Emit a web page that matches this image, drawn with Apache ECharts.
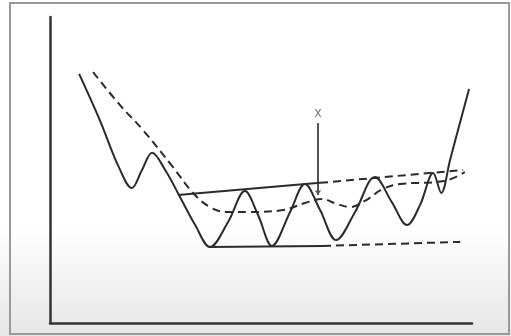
<!DOCTYPE html>
<html><head><meta charset="utf-8">
<script src="https://cdn.jsdelivr.net/npm/echarts@6/dist/echarts.min.js"></script>
<style>html,body{margin:0;padding:0;background:#fff}#c{width:511px;height:336px}</style>
</head><body><div id="c"></div>
<script>
// Price-like oscillating curve (solid)
const priceX = [6.9, 11.8, 16.1, 19.4, 21.8, 24.2, 27.3, 30.8, 34.4, 37.9, 42.2, 46.2, 49.3, 52.6, 56.9, 60.4, 64.0, 67.8, 72.3, 77.0, 81.0, 84.6, 87.7, 90.8, 92.7, 94.8, 99.3];
const priceY = [81.4, 66.3, 51.6, 44.1, 50.0, 55.6, 50.0, 41.2, 32.0, 24.8, 33.0, 43.1, 35.3, 25.2, 36.3, 45.4, 36.9, 27.1, 36.3, 47.7, 39.5, 32.0, 38.6, 49.0, 42.5, 53.3, 76.5];
// Moving-average-like dashed curve
const avgX = [10.2, 16.6, 22.0, 29.1, 33.9, 37.9, 41.9, 47.4, 55.2, 60.4, 64.5, 68.0, 71.1, 74.6, 78.9, 82.9, 93.4, 98.3];
const avgY = [82.0, 71.2, 63.1, 51.0, 42.5, 37.9, 36.3, 36.3, 36.9, 39.2, 40.5, 38.9, 37.9, 39.9, 43.8, 45.4, 46.4, 49.3];
// Trend lines: [start, end of solid part, end of dashed extension]
const upperX = [30.3, 64.0, 97.9];
const upperY = [41.8, 45.8, 50.0];
const lowerX = [37.7, 64.7, 97.2];
const lowerY = [24.8, 25.2, 26.5];
// Arrow marker "x"
const arrowX = 63.5;
const arrowY = [65.4, 41.8];
const arrowLabel = 'x';
const arrowLabelY = 68.6;

const zip = (xs, ys) => xs.map((x, i) => [x, ys[i]]);
const ink = '#2b2b2b';

const chart = echarts.init(document.getElementById('c'), null, {renderer: 'canvas'});
chart.setOption({
  animation: false,
  graphic: [
    {type: 'rect', z: -10, shape: {x: 0, y: 0, width: 511, height: 336},
     style: {fill: new echarts.graphic.LinearGradient(0, 0, 0, 1, [
       {offset: 0, color: '#ffffff'}, {offset: 0.68, color: '#ffffff'}, {offset: 1, color: '#e6e6e6'}])}},
    {type: 'rect', z: -9, shape: {x: 10, y: 3, width: 499, height: 331},
     style: {fill: 'none', stroke: '#9a9a9a', lineWidth: 2}}
  ],
  grid: {left: 50, right: 39, top: 17, bottom: 13},
  xAxis: {type: 'value', min: 0, max: 100,
    axisLine: {show: true, onZero: false, lineStyle: {color: '#333', width: 2.5}},
    axisTick: {show: false}, axisLabel: {show: false}, splitLine: {show: false}},
  yAxis: {type: 'value', min: 0, max: 100,
    axisLine: {show: true, onZero: false, lineStyle: {color: '#333', width: 2.5}},
    axisTick: {show: false}, axisLabel: {show: false}, splitLine: {show: false}},
  series: [
    {type: 'line', data: zip(priceX, priceY), smooth: 0.35, symbol: 'none',
     lineStyle: {color: ink, width: 2}},
    {type: 'line', data: zip(avgX, avgY), smooth: 0.4, symbol: 'none',
     lineStyle: {color: ink, width: 2, type: [8, 5]}},
    {type: 'line', data: zip(upperX.slice(0, 2), upperY.slice(0, 2)), symbol: 'none',
     lineStyle: {color: ink, width: 2}},
    {type: 'line', data: zip(upperX.slice(1), upperY.slice(1)), symbol: 'none',
     lineStyle: {color: ink, width: 2, type: [8, 5]}},
    {type: 'line', data: zip(lowerX.slice(0, 2), lowerY.slice(0, 2)), symbol: 'none',
     lineStyle: {color: ink, width: 2}},
    {type: 'line', data: zip(lowerX.slice(1), lowerY.slice(1)), symbol: 'none',
     lineStyle: {color: ink, width: 2, type: [8, 5]}},
    {type: 'lines', coordinateSystem: 'cartesian2d', symbol: ['none', 'arrow'], symbolSize: 5,
     data: [{coords: [[arrowX, arrowY[0]], [arrowX, arrowY[1]]]}],
     lineStyle: {color: '#555', width: 2, opacity: 1}},
    {type: 'scatter', data: [[arrowX, arrowLabelY]], symbolSize: 0,
     label: {show: true, position: 'inside', formatter: arrowLabel, color: '#555',
       fontFamily: 'Liberation Sans', fontSize: 14}}
  ]
});
</script></body></html>
